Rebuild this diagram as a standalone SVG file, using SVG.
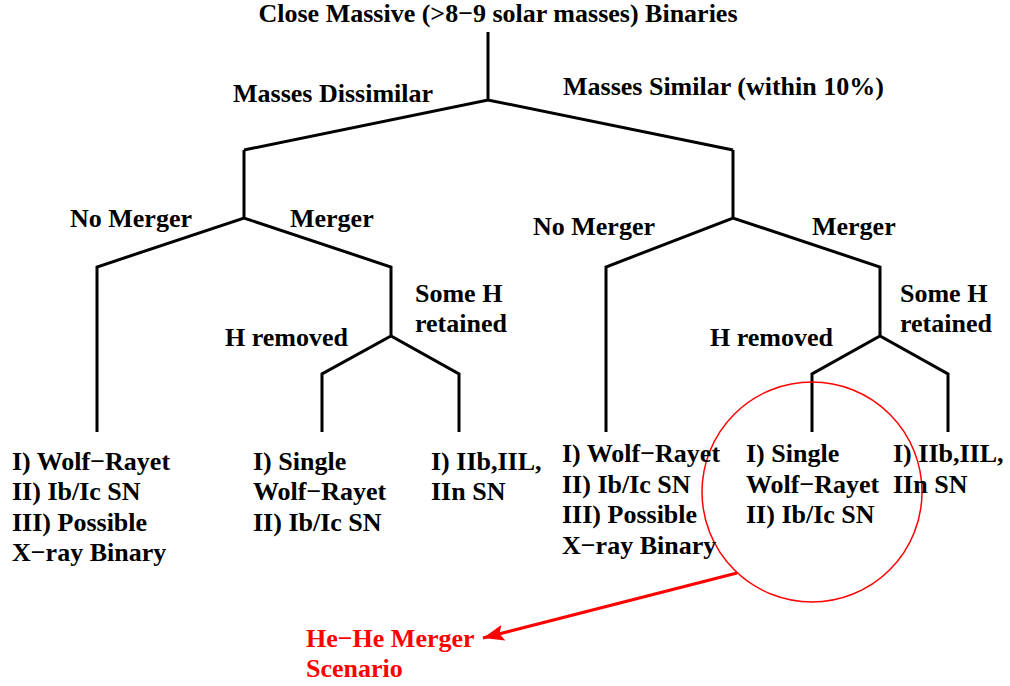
<svg xmlns="http://www.w3.org/2000/svg" width="1010" height="686" viewBox="0 0 1010 686" font-family="'Liberation Serif', serif">
<style>
text{font-family:'Liberation Serif',serif;font-weight:bold;font-size:26px;fill:#000}
.red{fill:#ff0000}
.edge{fill:none;stroke:#000;stroke-width:3;stroke-linejoin:miter}
</style>
<defs>
<marker id="ah" markerWidth="24" markerHeight="18" refX="0" refY="0" orient="auto" markerUnits="userSpaceOnUse" viewBox="-22 -9 24 18" overflow="visible">
<path d="M0,0 L-21,-8 L-17,0 L-21,8 Z" fill="#ff0000"/>
</marker>
</defs>
<rect width="1010" height="686" fill="#fff"/>
<g id="connectors">
<path class="edge" d="M488,32 V100 M244,150 L488,100 L733,150"/>
<path class="edge" d="M244,150 V218 M97,432 V267 L244,218 L391,267 V336 M322,432 V374 L391,336 L459,374 V432"/>
<path class="edge" d="M733,150 V218 M606,432 V267 L733,218 L880,267 V336 M812,432 V374 L880,336 L948,374 V432"/>
<circle cx="812" cy="492" r="110" fill="none" stroke="#ff0000" stroke-width="1.5"/>
<line x1="737" y1="573" x2="483" y2="638" stroke="#ff0000" stroke-width="3" marker-end="url(#ah)"/>
</g>
<g id="root"><text x="498" y="22" text-anchor="middle">Close Massive (&gt;8−9 solar masses) Binaries</text></g>
<g id="masses-dissimilar"><text x="233" y="102">Masses Dissimilar</text></g>
<g id="masses-similar"><text x="563" y="95">Masses Similar (within 10%)</text></g>
<g id="l-no-merger"><text x="70" y="227">No Merger</text></g>
<g id="l-merger"><text x="290" y="227">Merger</text></g>
<g id="r-no-merger"><text x="533" y="235">No Merger</text></g>
<g id="r-merger"><text x="812" y="235">Merger</text></g>
<g id="l-some-h"><text x="415" y="302">Some H</text><text x="415" y="332">retained</text></g>
<g id="l-h-removed"><text x="225" y="346">H removed</text></g>
<g id="r-some-h"><text x="900" y="302">Some H</text><text x="900" y="332">retained</text></g>
<g id="r-h-removed"><text x="710" y="346">H removed</text></g>
<g id="leaf-l1"><text x="12" y="470">I) Wolf−Rayet</text><text x="12" y="500">II) Ib/Ic SN</text><text x="12" y="531">III) Possible</text><text x="12" y="561">X−ray Binary</text></g>
<g id="leaf-l2"><text x="253" y="470">I) Single</text><text x="253" y="500">Wolf−Rayet</text><text x="253" y="531">II) Ib/Ic SN</text></g>
<g id="leaf-l3"><text x="431" y="470">I) IIb,IIL,</text><text x="431" y="500">IIn SN</text></g>
<g id="leaf-r1"><text x="562" y="462">I) Wolf−Rayet</text><text x="562" y="493">II) Ib/Ic SN</text><text x="562" y="523">III) Possible</text><text x="562" y="554">X−ray Binary</text></g>
<g id="leaf-r2"><text x="746" y="462">I) Single</text><text x="746" y="493">Wolf−Rayet</text><text x="746" y="523">II) Ib/Ic SN</text></g>
<g id="leaf-r3"><text x="893" y="462">I) IIb,IIL,</text><text x="893" y="493">IIn SN</text></g>
<g id="he-he"><text class="red" x="306" y="647">He−He Merger</text><text class="red" x="306" y="677">Scenario</text></g>
</svg>
